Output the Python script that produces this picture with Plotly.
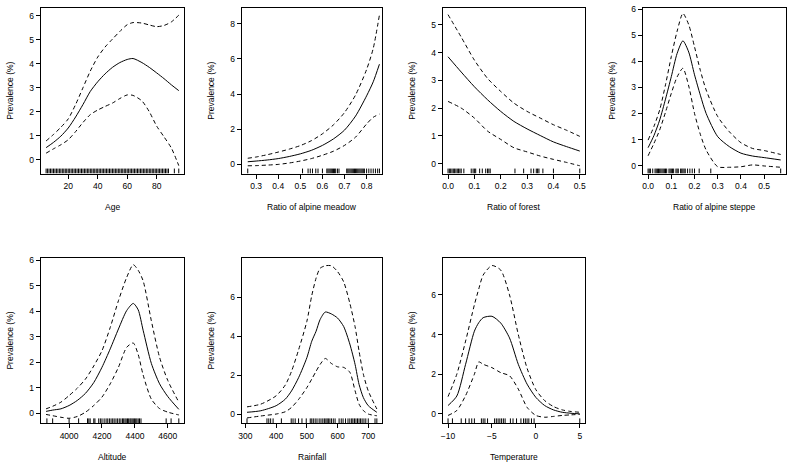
import plotly.graph_objects as go

# ---------------- data ----------------
age_x = [5, 10, 15, 20, 25, 30, 35, 40, 45, 50, 55, 60, 64, 70, 75, 80, 85, 90, 95]
age_fit = [0.5, 0.72, 0.98, 1.32, 1.78, 2.3, 2.85, 3.25, 3.58, 3.85, 4.05, 4.18, 4.22, 4.05, 3.85, 3.62, 3.38, 3.12, 2.88]
age_upper = [0.78, 1.05, 1.35, 1.7, 2.3, 3.0, 3.7, 4.28, 4.7, 5.03, 5.35, 5.63, 5.72, 5.7, 5.62, 5.55, 5.6, 5.75, 6.03]
age_lower = [0.27, 0.45, 0.62, 0.83, 1.17, 1.55, 1.88, 2.07, 2.22, 2.36, 2.55, 2.7, 2.68, 2.45, 2.0, 1.4, 0.95, 0.48, -0.25]
age_rug = [5, 6, 7, 8, 9, 10, 11, 12, 13, 14, 15, 16, 17, 18, 19, 20, 21, 22, 23, 24, 25, 26, 27, 28, 29,
           30, 31, 32, 33, 34, 35, 36, 37, 38, 39, 40, 41, 42, 43, 44, 45, 46, 47, 48, 49, 50, 51, 52,
           53, 54, 55, 56, 57, 58, 59, 60, 61, 62, 63, 64, 65, 66, 67, 68, 69, 70, 71, 72, 73, 74, 75,
           76, 77, 78, 79, 80, 81, 82, 83, 84, 85, 86, 87, 88, 92, 95]

meadow_x = [0.262, 0.3, 0.35, 0.4, 0.45, 0.5, 0.55, 0.6, 0.65, 0.7, 0.75, 0.8, 0.83, 0.858]
meadow_fit = [0.15, 0.19, 0.25, 0.33, 0.45, 0.6, 0.8, 1.08, 1.45, 1.95, 2.75, 3.9, 4.7, 5.7]
meadow_upper = [0.35, 0.42, 0.55, 0.7, 0.87, 1.07, 1.35, 1.74, 2.25, 2.95, 3.95, 5.4, 6.6, 8.5]
meadow_lower = [-0.08, -0.07, -0.04, 0.0, 0.08, 0.19, 0.33, 0.52, 0.75, 1.08, 1.55, 2.3, 2.68, 2.86]
meadow_rug = [0.262, 0.51, 0.535, 0.545, 0.555, 0.57, 0.58, 0.6, 0.62, 0.625, 0.63, 0.635, 0.64, 0.645,
              0.65, 0.655, 0.66, 0.668, 0.675, 0.71, 0.715, 0.72, 0.725, 0.73, 0.735, 0.74, 0.745, 0.75,
              0.755, 0.76, 0.765, 0.77, 0.775, 0.78, 0.785, 0.79, 0.8, 0.81, 0.82, 0.83, 0.84, 0.85, 0.858]

forest_x = [0, 0.05, 0.1, 0.15, 0.2, 0.25, 0.3, 0.35, 0.4, 0.45, 0.5]
forest_fit = [3.85, 3.3, 2.77, 2.3, 1.88, 1.52, 1.25, 1.01, 0.78, 0.61, 0.45]
forest_upper = [5.37, 4.56, 3.73, 3.07, 2.6, 2.18, 1.88, 1.64, 1.4, 1.2, 0.98]
forest_lower = [2.24, 2.0, 1.64, 1.17, 0.87, 0.57, 0.42, 0.27, 0.15, 0.04, -0.08]
forest_rug = [0, 0.005, 0.01, 0.015, 0.02, 0.025, 0.03, 0.035, 0.04, 0.045, 0.05, 0.06, 0.088, 0.095,
              0.1, 0.105, 0.12, 0.13, 0.143, 0.15, 0.155, 0.16, 0.254, 0.287, 0.315, 0.325, 0.335,
              0.34, 0.345, 0.36, 0.4, 0.5]

steppe_x = [0, 0.025, 0.05, 0.075, 0.1, 0.125, 0.15, 0.175, 0.2, 0.225, 0.25, 0.3, 0.35, 0.4, 0.45, 0.5, 0.571]
steppe_fit = [0.69, 1.15, 1.75, 2.55, 3.41, 4.3, 4.78, 4.35, 3.48, 2.7, 2.0, 1.11, 0.73, 0.48, 0.37, 0.31, 0.22]
steppe_upper = [0.98, 1.5, 2.14, 3.1, 4.18, 5.15, 5.83, 5.4, 4.55, 3.65, 2.9, 1.88, 1.3, 0.88, 0.66, 0.58, 0.43]
steppe_lower = [0.38, 0.85, 1.37, 2.05, 2.77, 3.4, 3.73, 3.05, 2.0, 1.2, 0.6, -0.04, -0.06, -0.04, 0.03, -0.01, -0.06]
steppe_rug = [0, 0.005, 0.01, 0.02, 0.03, 0.035, 0.04, 0.045, 0.05, 0.055, 0.06, 0.065, 0.07, 0.075,
              0.08, 0.09, 0.095, 0.1, 0.105, 0.11, 0.12, 0.125, 0.13, 0.14, 0.145, 0.15, 0.155, 0.16,
              0.17, 0.18, 0.19, 0.2, 0.22, 0.27, 0.571]

alt_x = [3860, 3900, 3950, 4000, 4050, 4100, 4150, 4200, 4250, 4300, 4350, 4390, 4420, 4450, 4500, 4550, 4600, 4667]
alt_fit = [0.07, 0.12, 0.17, 0.3, 0.5, 0.78, 1.2, 1.8, 2.52, 3.3, 4.02, 4.3, 4.05, 3.25, 1.95, 1.15, 0.65, 0.15]
alt_upper = [0.17, 0.27, 0.43, 0.69, 0.98, 1.34, 1.85, 2.45, 3.36, 4.41, 5.32, 5.82, 5.6, 5.19, 3.62, 2.19, 1.28, 0.43]
alt_lower = [-0.05, -0.1, -0.16, -0.2, -0.13, 0.04, 0.3, 0.63, 1.15, 1.8, 2.58, 2.75, 2.3, 1.5, 0.55, 0.18, 0.04, -0.07]
alt_rug = [3865, 3900, 4000, 4058, 4112, 4120, 4128, 4150, 4157, 4180, 4190, 4200, 4213, 4225, 4235,
           4245, 4255, 4265, 4274, 4285, 4295, 4305, 4315, 4325, 4332, 4340, 4347, 4355, 4362, 4370,
           4376, 4383, 4390, 4397, 4405, 4412, 4420, 4428, 4437, 4590, 4620, 4667]

rain_x = [305, 350, 400, 430, 450, 473, 500, 516, 530, 543, 560, 580, 600, 620, 640, 657, 670, 684, 700, 728]
rain_fit = [0.09, 0.17, 0.43, 0.77, 1.19, 1.87, 2.9, 3.75, 4.26, 4.86, 5.25, 5.15, 4.94, 4.5, 3.6, 2.56, 1.53, 0.85, 0.43, 0.09]
rain_upper = [0.37, 0.51, 0.94, 1.5, 2.2, 3.3, 4.77, 6.1, 6.99, 7.5, 7.63, 7.63, 7.33, 6.8, 5.7, 4.5, 3.24, 2.05, 1.19, 0.26]
rain_lower = [-0.2, -0.1, 0.0, 0.12, 0.34, 0.75, 1.36, 1.8, 2.2, 2.55, 2.86, 2.6, 2.43, 2.4, 2.15, 1.2, 0.51, 0.18, 0.0, -0.09]
rain_rug = [305, 370, 376, 382, 390, 417, 449, 455, 462, 473, 484, 498, 511, 516, 521, 527, 533, 540,
            546, 552, 557, 562, 566, 570, 575, 580, 586, 592, 605, 612, 618, 626, 634, 640, 646, 650,
            655, 660, 665, 670, 675, 680, 686, 692, 700, 722, 728]

temp_x = [-10, -9, -8, -7, -6.5, -6, -5, -4, -3, -2, -1, 0, 1, 2, 3, 4, 5]
temp_fit = [0.42, 0.9, 2.5, 4.17, 4.6, 4.85, 4.92, 4.58, 3.83, 2.5, 1.5, 0.83, 0.42, 0.2, 0.08, 0.03, 0.0]
temp_upper = [0.87, 2.0, 3.67, 5.5, 6.3, 7.0, 7.48, 7.25, 6.0, 4.0, 2.3, 1.22, 0.67, 0.37, 0.2, 0.12, 0.08]
temp_lower = [-0.08, 0.17, 0.92, 2.0, 2.62, 2.5, 2.33, 2.08, 1.92, 1.25, 0.33, -0.08, -0.17, -0.13, -0.08, -0.05, -0.03]
temp_rug = [-10, -9.5, -8.5, -8, -7.6, -7.3, -7, -6.2, -6, -5.8, -5.5, -4.7, -4.5, -4.3, -4.1, -3.9,
            -3.7, -3.5, -2.9, -2.6, -2.2, -1.7, -1.4, -1.2, -1, -0.8, -0.5, -0.2, 5]

x_labels = ["Age", "Ratio of alpine meadow", "Ratio of forest", "Ratio of alpine steppe",
            "Altitude", "Rainfall", "Temperature"]
y_label = "Prevalence (%)"

x_ticks = [[20, 40, 60, 80], [0.3, 0.4, 0.5, 0.6, 0.7, 0.8], [0, 0.1, 0.2, 0.3, 0.4, 0.5],
           [0, 0.1, 0.2, 0.3, 0.4, 0.5], [4000, 4200, 4400, 4600], [300, 400, 500, 600, 700],
           [-10, -5, 0, 5]]
y_ticks = [[0, 1, 2, 3, 4, 5, 6], [0, 2, 4, 6, 8], [0, 1, 2, 3, 4, 5], [0, 1, 2, 3, 4, 5, 6],
           [0, 1, 2, 3, 4, 5, 6], [0, 2, 4, 6], [0, 2, 4, 6]]

# ---------------- layout geometry ----------------
W, H = 791, 466
x_ranges = [[1.4, 98.6], [0.235, 0.87], [-0.02, 0.52], [-0.023, 0.594],
            [3828, 4699], [288, 745], [-10.6, 5.6]]
y_ranges = [[-0.58, 6.33], [-0.52, 8.9], [-0.36, 5.61], [-0.3, 6.04],
            [-0.4, 6.09], [-0.48, 8.04], [-0.48, 7.87]]
col_px = [(38, 182), (240, 381), (442, 585), (643, 787)]
row_px = [(4, 171), (256, 423)]
cells = [(0, 0), (0, 1), (0, 2), (0, 3), (1, 0), (1, 1), (1, 2)]
tick_fmt = [None, ".1f", ".1f", ".1f", None, None, None]

series = [
    (age_x, age_fit, age_upper, age_lower, age_rug),
    (meadow_x, meadow_fit, meadow_upper, meadow_lower, meadow_rug),
    (forest_x, forest_fit, forest_upper, forest_lower, forest_rug),
    (steppe_x, steppe_fit, steppe_upper, steppe_lower, steppe_rug),
    (alt_x, alt_fit, alt_upper, alt_lower, alt_rug),
    (rain_x, rain_fit, rain_upper, rain_lower, rain_rug),
    (temp_x, temp_fit, temp_upper, temp_lower, temp_rug),
]

FONT = "Liberation Sans, Arial, sans-serif"
FS = 8.5
fig = go.Figure()
layout = dict(width=W, height=H, margin=dict(l=0, r=0, t=0, b=0),
              paper_bgcolor="white", plot_bgcolor="white", showlegend=False,
              font=dict(family=FONT, size=FS, color="black"))
annotations = []

for i, (xs, fit, up, lo, rug) in enumerate(series):
    sfx = "" if i == 0 else str(i + 1)
    xa, ya = "x" + sfx, "y" + sfx
    r, c = cells[i]
    x0, x1 = col_px[c]
    y0, y1 = row_px[r]
    line_solid = dict(color="black", width=1, shape="spline", smoothing=0.7)
    line_dash = dict(color="black", width=1, dash="4px,3px", shape="spline", smoothing=0.7)
    fig.add_trace(go.Scatter(x=xs, y=fit, mode="lines", line=line_solid, xaxis=xa, yaxis=ya, hoverinfo="skip"))
    fig.add_trace(go.Scatter(x=xs, y=up, mode="lines", line=line_dash, xaxis=xa, yaxis=ya, hoverinfo="skip"))
    fig.add_trace(go.Scatter(x=xs, y=lo, mode="lines", line=line_dash, xaxis=xa, yaxis=ya, hoverinfo="skip"))
    yb, yt = y_ranges[i]
    rh = 0.03 * (yt - yb)
    rx, ry = [], []
    for v in rug:
        rx += [v, v, None]
        ry += [yb, yb + rh, None]
    fig.add_trace(go.Scatter(x=rx, y=ry, mode="lines", line=dict(color="black", width=1),
                             xaxis=xa, yaxis=ya, hoverinfo="skip"))

    common = dict(showline=True, mirror=True, linecolor="black", linewidth=1, ticks="outside",
                  ticklen=4, tickcolor="black", tickwidth=1, showgrid=False, zeroline=False,
                  tickfont=dict(family=FONT, size=FS, color="black"))
    layout["xaxis" + sfx] = dict(domain=[x0 / W, x1 / W], range=x_ranges[i], anchor=ya,
                                 tickvals=x_ticks[i], tickformat=tick_fmt[i], **common)
    layout["yaxis" + sfx] = dict(domain=[(H - y1) / H, (H - y0) / H], range=y_ranges[i], anchor=xa,
                                 tickvals=y_ticks[i], **common)
    annotations.append(dict(text=x_labels[i], xref="paper", yref="paper", x=(x0 + x1) / 2 / W,
                            y=(H - (y1 + 34)) / H, xanchor="center", yanchor="middle",
                            showarrow=False, font=dict(family=FONT, size=FS, color="black")))
    annotations.append(dict(text=y_label, xref="paper", yref="paper", x=(x0 - 31) / W,
                            y=(H - (y0 + y1) / 2) / H, xanchor="center", yanchor="middle",
                            textangle=-90, showarrow=False, font=dict(family=FONT, size=FS, color="black")))

layout["annotations"] = annotations
fig.update_layout(**layout)
fig.write_html("out.html", config={"displayModeBar": False, "staticPlot": True},
               post_script="document.body.style.margin='0px';document.body.style.padding='0px';")
